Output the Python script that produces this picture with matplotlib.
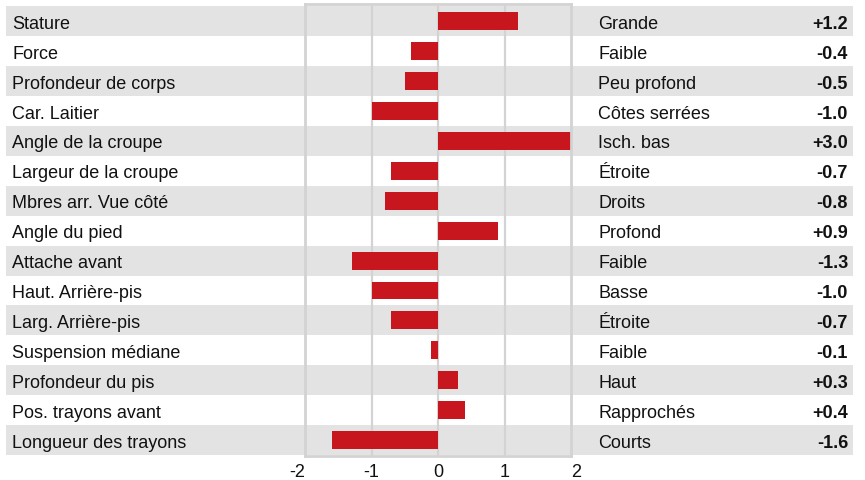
import matplotlib
matplotlib.use("Agg")
import matplotlib.pyplot as plt
from matplotlib.patches import Rectangle
import matplotlib.transforms as mtransforms

plt.rcParams['font.family'] = ['Liberation Sans', 'DejaVu Sans']

traits = ["Stature", "Force", "Profondeur de corps", "Car. Laitier", "Angle de la croupe",
          "Largeur de la croupe", "Mbres arr. Vue côté", "Angle du pied", "Attache avant",
          "Haut. Arrière-pis", "Larg. Arrière-pis", "Suspension médiane", "Profondeur du pis",
          "Pos. trayons avant", "Longueur des trayons"]
descriptions = ["Grande", "Faible", "Peu profond", "Côtes serrées", "Isch. bas", "Étroite",
                "Droits", "Profond", "Faible", "Basse", "Étroite", "Faible", "Haut",
                "Rapprochés", "Courts"]
values = [1.2, -0.4, -0.5, -1.0, 3.0, -0.7, -0.8, 0.9, -1.3, -1.0, -0.7, -0.1, 0.3, 0.4, -1.6]
xticks = [-2, -1, 0, 1, 2]

W, H = 865, 481
fig = plt.figure(figsize=(W / 100, H / 100), dpi=100)

ax_l, ax_r = 305, 571
ax_t, ax_b = 5, 457
ax = fig.add_axes([ax_l / W, 1 - ax_b / H, (ax_r - ax_l) / W, (ax_b - ax_t) / H])
ax.set_facecolor('none')

n = len(traits)
ax.set_xlim(-2, 2)
ax.set_ylim(n - 0.5 + 0.033, -0.5 - 0.077)

band_color = '#e3e3e3'
grid_color = '#d3d3d3'
bar_color = '#c8161e'
text_color = '#111111'

trans = mtransforms.blended_transform_factory(fig.transFigure, ax.transData)
band_x0, band_x1 = 6 / W, 853 / W
for i in range(n):
    if i % 2 == 0:
        ax.add_patch(Rectangle((band_x0, i - 0.5), band_x1 - band_x0, 1.0,
                               transform=trans, facecolor=band_color,
                               edgecolor='none', zorder=0, clip_on=False))

for x in [-1, 0, 1]:
    ax.axvline(x, color=grid_color, lw=1.6, zorder=1)

ys = list(range(n))
ax.barh(ys, values, height=0.6, color=bar_color, zorder=2)

fs = 13
for i in range(n):
    ax.text(12.5 / W, i, traits[i], transform=trans, ha='left', va='center_baseline',
            fontsize=fs, color=text_color)
    ax.text(598 / W, i, descriptions[i], transform=trans, ha='left', va='center_baseline',
            fontsize=fs, color=text_color)
    ax.text(848 / W, i, f"{values[i]:+.1f}", transform=trans, ha='right',
            va='center_baseline', fontsize=fs, fontweight='bold', color=text_color)

for s in ax.spines.values():
    s.set_color(grid_color)
    s.set_linewidth(2)
    s.set_zorder(3)

ax.set_yticks([])
ax.set_xticks(xticks)
ax.set_xticklabels([str(t) for t in xticks], fontsize=fs, color=text_color)
ax.tick_params(axis='x', length=0, pad=5)
labels = ax.get_xticklabels()
labels[0].set_ha('right')
labels[-1].set_ha('left')

fig.savefig('out.png', dpi=100)
